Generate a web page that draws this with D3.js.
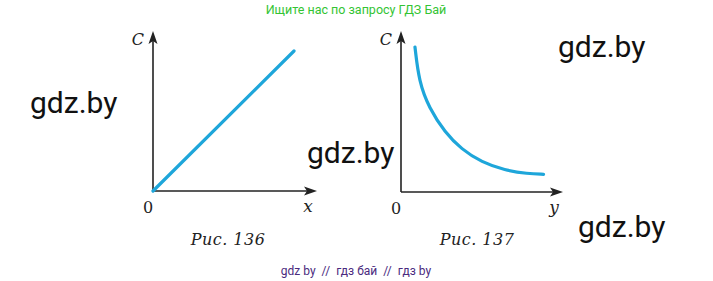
<!DOCTYPE html>
<html>
<head>
<meta charset="utf-8">
<script src="https://cdn.jsdelivr.net/npm/d3@7"></script>
<style>
  body { margin: 0; background: #fff; }
</style>
</head>
<body>
<div id="chart"></div>
<script>
// Chart size
const width = 713;
const height = 281;

// Рис. 136: straight line through origin
const linX = [0, 10];
const linC = [0, 10];

// Рис. 137: falling curve
const curY = [0.97, 1.25, 1.95, 3.06, 4.2, 5.6, 7.2, 8.8, 9.9];
const curC = [10.0, 7.6, 5.8, 4.1, 2.95, 2.05, 1.5, 1.26, 1.22];

// Captions and watermark texts
const captions = ["Рис. 136", "Рис. 137"];
const xLabels = ["x", "y"];
const topText = "Ищите нас по запросу ГДЗ Бай";
const bottomText = "gdz by  //  гдз бай  //  гдз by";
const marks = [[30, 113], [558, 57], [307, 163], [578, 237]];

const svg = d3.select("#chart")
    .append("svg")
    .attr("width", width)
    .attr("height", height);

const lineColor = "#1ea6da";
const serif = "'DejaVu Serif', 'Liberation Serif', serif";

// draw one panel: axes with arrows, labels, curve
function drawPanel(xs, ys, xRange, yRange, axisEndX, axisEndY, xLab, caption, capX, curve) {
    const x = d3.scaleLinear().domain([0, 10]).range(xRange);
    const y = d3.scaleLinear().domain([0, 10]).range(yRange);
    const g = svg.append("g");

    const ox = x(0), oy = y(0);

    // axes
    g.append("line").attr("x1", ox).attr("y1", oy).attr("x2", axisEndX - 6).attr("y2", oy)
        .style("stroke", "#222").style("stroke-width", 1.6);
    g.append("line").attr("x1", ox).attr("y1", oy).attr("x2", ox).attr("y2", axisEndY + 6)
        .style("stroke", "#222").style("stroke-width", 1.6);

    // arrow heads
    g.append("path")
        .attr("d", `M${axisEndX},${oy} L${axisEndX - 13},${oy - 4.5} L${axisEndX - 10},${oy} L${axisEndX - 13},${oy + 4.5} Z`)
        .style("fill", "#222");
    g.append("path")
        .attr("d", `M${ox},${axisEndY} L${ox - 4.5},${axisEndY + 13} L${ox},${axisEndY + 10} L${ox + 4.5},${axisEndY + 13} Z`)
        .style("fill", "#222");

    // the curve
    const pts = xs.map((d, i) => [d, ys[i]]);
    const line = d3.line()
        .x(d => x(d[0]))
        .y(d => y(d[1]))
        .curve(curve);
    g.append("path")
        .attr("d", line(pts))
        .style("fill", "none")
        .style("stroke", lineColor)
        .style("stroke-width", 3.2)
        .style("stroke-linecap", "round");

    // labels
    g.append("text").attr("x", ox - 9).attr("y", axisEndY + 14)
        .attr("text-anchor", "end")
        .style("font-family", serif).style("font-style", "italic").style("font-size", "16px")
        .style("fill", "#222").text("C");
    g.append("text").attr("x", ox - 5).attr("y", oy + 22)
        .attr("text-anchor", "middle")
        .style("font-family", serif).style("font-size", "16px")
        .style("fill", "#222").text("0");
    g.append("text").attr("x", axisEndX - 9).attr("y", oy + 21)
        .attr("text-anchor", "middle")
        .style("font-family", serif).style("font-style", "italic").style("font-size", "17px")
        .style("fill", "#222").text(xLab);
    g.append("text").attr("x", capX).attr("y", 245)
        .attr("text-anchor", "middle")
        .style("font-family", serif).style("font-style", "italic").style("font-size", "16px")
        .style("letter-spacing", "0.5px")
        .style("fill", "#222").text(caption);
}

drawPanel(linX, linC, [153, 294], [191, 51], 317, 31, xLabels[0], captions[0], 228, d3.curveLinear);
drawPanel(curY, curC, [401, 545], [192, 47], 563, 31, xLabels[1], captions[1], 477, d3.curveBasis);

// watermarks
svg.selectAll("text.mark")
    .data(marks)
    .enter()
    .append("text")
    .attr("class", "mark")
    .attr("x", d => d[0])
    .attr("y", d => d[1])
    .style("font-family", "Roboto, sans-serif")
    .style("font-size", "30px")
    .style("fill", "#111")
    .text("gdz.by");

svg.append("text")
    .attr("x", 356).attr("y", 14)
    .attr("text-anchor", "middle")
    .style("font-family", "Roboto, sans-serif")
    .style("font-size", "12.5px")
    .style("fill", "#33c433")
    .text(topText);

svg.append("text")
    .attr("x", 356).attr("y", 275)
    .attr("text-anchor", "middle")
    .style("font-family", "Roboto, sans-serif")
    .style("font-size", "12px")
    .style("fill", "#4a2a7e")
    .attr("xml:space", "preserve")
    .text(bottomText);
</script>
</body>
</html>
